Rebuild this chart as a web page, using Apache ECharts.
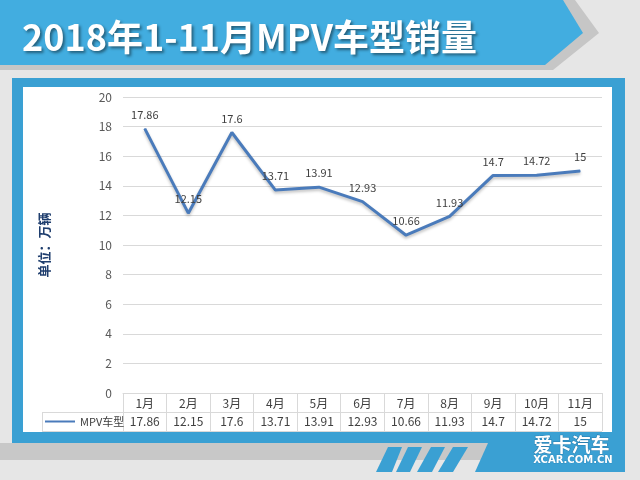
<!DOCTYPE html>
<html><head><meta charset="utf-8">
<script src="https://cdn.jsdelivr.net/npm/echarts@6/dist/echarts.min.js"></script>
<style>html,body{margin:0;padding:0;background:#e6e6e6}#c{width:640px;height:480px}</style>
</head><body><div id="c"></div>
<script>
const titleText = '2018年1-11月MPV车型销量';
const months = ['1月','2月','3月','4月','5月','6月','7月','8月','9月','10月','11月'];
const seriesName = 'MPV车型';
const sales = [17.86, 12.15, 17.6, 13.71, 13.91, 12.93, 10.66, 11.93, 14.7, 14.72, 15];
const yTicks = {min: 0, max: 20, interval: 2};
const unitLabel = '单位：万辆';

const FONT = '"Microsoft YaHei","Noto Sans CJK SC","Noto Sans",sans-serif';
const BLUE = '#3aa0d3';
const chart = echarts.init(document.getElementById('c'));
const bg = (el) => Object.assign({silent: true, z: -10}, el);

chart.setOption({
  backgroundColor: '#e6e6e6',
  animation: false,
  textStyle: {fontFamily: FONT},
  title: {
    text: titleText, left: 17, top: 14,
    textStyle: {color: '#fff', fontSize: 36, fontWeight: 'bold', fontFamily: FONT,
      textShadowColor: 'rgba(0,0,0,0.45)', textShadowBlur: 3, textShadowOffsetX: 2, textShadowOffsetY: 2}
  },
  graphic: [
    bg({type: 'polygon', shape: {points: [[0,0],[575,0],[599,33],[553,70],[0,70]]}, style: {fill: '#c6c6c6'}}),
    bg({type: 'polygon', shape: {points: [[0,0],[563,0],[583,33],[545,65],[0,65]]}, style: {fill: '#42ade0'}}),
    bg({type: 'rect', shape: {x: 0, y: 443, width: 495, height: 17}, style: {fill: '#c8c8c8'}}),
    bg({type: 'rect', shape: {x: 12, y: 78, width: 613, height: 365}, style: {fill: BLUE}}),
    bg({type: 'polygon', shape: {points: [[488,443],[625,443],[625,472],[475,472]]}, style: {fill: BLUE}}),
    bg({type: 'polygon', shape: {points: [[388,447],[402,447],[392,472],[376,472]]}, style: {fill: BLUE}}),
    bg({type: 'polygon', shape: {points: [[408,447],[422,447],[410,472],[396,472]]}, style: {fill: BLUE}}),
    bg({type: 'polygon', shape: {points: [[431,447],[445,447],[432,472],[417,472]]}, style: {fill: BLUE}}),
    bg({type: 'polygon', shape: {points: [[453,447],[468,447],[453,472],[438,472]]}, style: {fill: BLUE}}),
    bg({type: 'rect', shape: {x: 23, y: 87, width: 589, height: 345}, style: {fill: '#ffffff'}}),
    {type: 'text', silent: true, z: 5, left: 533, top: 435,
      style: {text: '爱卡汽车', fill: '#fff', font: 'bold 19px ' + FONT, stroke: '#2a7fb0', lineWidth: 1}},
    {type: 'text', silent: true, z: 5, left: 533, top: 455,
      style: {text: 'XCAR.COM.CN', fill: '#fff', font: 'bold 10px "DejaVu Sans",sans-serif', stroke: '#2a7fb0', lineWidth: 0.5}},
    {type: 'line', silent: true, z: 1, shape: {x1: 42, y1: 412.5, x2: 123, y2: 412.5}, style: {stroke: '#d9d9d9', lineWidth: 1}},
    {type: 'line', silent: true, z: 1, shape: {x1: 42, y1: 431.5, x2: 602, y2: 431.5}, style: {stroke: '#d9d9d9', lineWidth: 1}},
    {type: 'line', silent: true, z: 1, shape: {x1: 42.5, y1: 412, x2: 42.5, y2: 432}, style: {stroke: '#d9d9d9', lineWidth: 1}}
  ],
  legend: {
    data: [seriesName], left: 40, top: 411, itemWidth: 30, itemHeight: 10, itemGap: 0, padding: 5,
    icon: 'path://M0,4 L30,4 L30,6 L0,6 Z',
    textStyle: {color: '#404040', fontSize: 11, fontFamily: FONT}
  },
  grid: {left: 123, right: 38, top: 97, bottom: 87, containLabel: false},
  xAxis: [{
    type: 'category', data: months, position: 'bottom', boundaryGap: true,
    axisLine: {show: true, lineStyle: {color: '#d9d9d9', width: 1}},
    axisTick: {show: true, length: 38, alignWithLabel: false, lineStyle: {color: '#d9d9d9'}},
    axisLabel: {color: '#404040', fontSize: 12, margin: 4, interval: 0, fontFamily: FONT}
  }, {
    type: 'category', data: sales.map(String), position: 'bottom', offset: 19, boundaryGap: true,
    axisLine: {show: true, lineStyle: {color: '#d9d9d9', width: 1}},
    axisTick: {show: false},
    axisLabel: {color: '#404040', fontSize: 12, margin: 3, interval: 0, fontFamily: FONT}
  }],
  yAxis: {
    type: 'value', min: yTicks.min, max: yTicks.max, interval: yTicks.interval,
    name: unitLabel, nameLocation: 'middle', nameRotate: 90, nameGap: 72,
    nameTextStyle: {color: '#1f3e6e', fontSize: 13, fontWeight: 'bold', fontFamily: FONT},
    axisLine: {show: false}, axisTick: {show: false},
    axisLabel: {color: '#595959', fontSize: 12, margin: 11, fontFamily: FONT},
    splitLine: {lineStyle: {color: '#d9d9d9', width: 1}}
  },
  series: [{
    name: seriesName, type: 'line', data: sales, xAxisIndex: 0,
    symbol: 'circle', symbolSize: 1, showSymbol: true, smooth: false,
    lineStyle: {color: '#4a7bbb', width: 3, shadowColor: 'rgba(0,0,0,0.25)', shadowBlur: 3, shadowOffsetY: 2},
    itemStyle: {color: '#4a7bbb'},
    label: {show: true, position: 'top', distance: 8, color: '#404040', fontSize: 11, fontFamily: FONT}
  }]
});
</script></body></html>
